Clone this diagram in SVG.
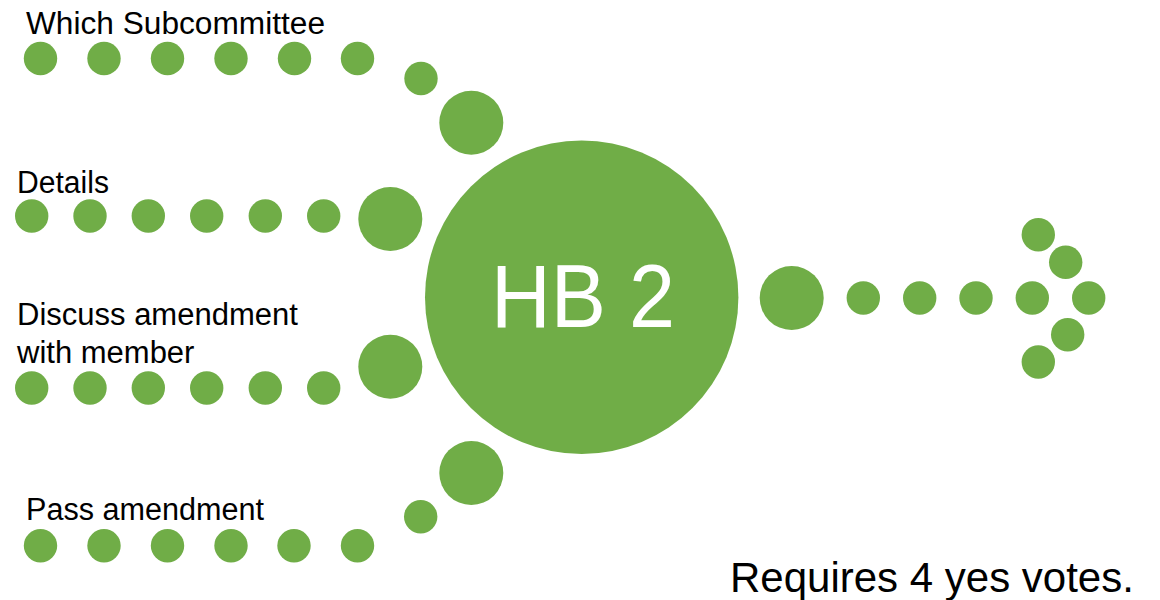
<svg xmlns="http://www.w3.org/2000/svg" width="1160" height="600" viewBox="0 0 1160 600">
<style>
.d{fill:#70AD47}
.lbl{font-family:"Liberation Sans",Arial,sans-serif;font-size:31px;fill:#000}
.hb{font-family:"Liberation Sans",Arial,sans-serif;font-size:89px;fill:#fff}
.note{font-family:"Liberation Sans",Arial,sans-serif;font-size:42px;fill:#000}
</style>
<rect width="1160" height="600" fill="#fff"/>
<g id="connectors">
  <g id="path-subcommittee">
    <circle class="d" cx="40.5" cy="58.5" r="16.7"/>
    <circle class="d" cx="104" cy="58.5" r="16.7"/>
    <circle class="d" cx="167.5" cy="58.5" r="16.7"/>
    <circle class="d" cx="231" cy="58.5" r="16.7"/>
    <circle class="d" cx="294.5" cy="58.5" r="16.7"/>
    <circle class="d" cx="357.5" cy="58.5" r="16.7"/>
    <circle class="d" cx="421" cy="78.5" r="16.7"/>
    <circle class="d" cx="471.3" cy="122.7" r="32"/>
  </g>
  <g id="path-details">
    <circle class="d" cx="31.7" cy="216" r="16.7"/>
    <circle class="d" cx="90" cy="216" r="16.7"/>
    <circle class="d" cx="148.3" cy="216" r="16.7"/>
    <circle class="d" cx="206.7" cy="216" r="16.7"/>
    <circle class="d" cx="265.3" cy="216" r="16.7"/>
    <circle class="d" cx="323.7" cy="216" r="16.7"/>
    <circle class="d" cx="390.3" cy="219" r="32"/>
  </g>
  <g id="path-discuss">
    <circle class="d" cx="31.7" cy="388" r="16.7"/>
    <circle class="d" cx="90" cy="388" r="16.7"/>
    <circle class="d" cx="148.3" cy="388" r="16.7"/>
    <circle class="d" cx="206.7" cy="388" r="16.7"/>
    <circle class="d" cx="265.3" cy="388" r="16.7"/>
    <circle class="d" cx="323.7" cy="388" r="16.7"/>
    <circle class="d" cx="390.3" cy="366.7" r="32"/>
  </g>
  <g id="path-pass">
    <circle class="d" cx="40.5" cy="545.7" r="16.7"/>
    <circle class="d" cx="104" cy="545.7" r="16.7"/>
    <circle class="d" cx="167.5" cy="545.7" r="16.7"/>
    <circle class="d" cx="231" cy="545.7" r="16.7"/>
    <circle class="d" cx="294" cy="545.7" r="16.7"/>
    <circle class="d" cx="357.5" cy="545.7" r="16.7"/>
    <circle class="d" cx="420.7" cy="516.7" r="16.7"/>
    <circle class="d" cx="471.3" cy="473" r="32"/>
  </g>
  <g id="path-out">
    <circle class="d" cx="791.7" cy="298" r="32"/>
    <circle class="d" cx="863.3" cy="298" r="16.7"/>
    <circle class="d" cx="919.7" cy="298" r="16.7"/>
    <circle class="d" cx="976" cy="298" r="16.7"/>
    <circle class="d" cx="1032.3" cy="298" r="16.7"/>
    <circle class="d" cx="1088.7" cy="298" r="16.7"/>
    <circle class="d" cx="1038.3" cy="234.7" r="16.7"/>
    <circle class="d" cx="1065.7" cy="262.3" r="16.7"/>
    <circle class="d" cx="1067.7" cy="334.7" r="16.7"/>
    <circle class="d" cx="1038.3" cy="362" r="16.7"/>
  </g>
</g>
<g id="node-hb2">
  <circle class="d" cx="581.7" cy="297.3" r="156.7"/>
  <text class="hb" x="491" y="326.7" textLength="184" lengthAdjust="spacingAndGlyphs">HB 2</text>
</g>
<g id="label-subcommittee"><text class="lbl" x="26" y="34" textLength="299" lengthAdjust="spacingAndGlyphs">Which Subcommittee</text></g>
<g id="label-details"><text class="lbl" x="17" y="193" textLength="92" lengthAdjust="spacingAndGlyphs">Details</text></g>
<g id="label-discuss"><text class="lbl" x="17" y="325">Discuss amendment</text><text class="lbl" x="17" y="363">with member</text></g>
<g id="label-pass"><text class="lbl" x="26" y="520" textLength="238" lengthAdjust="spacingAndGlyphs">Pass amendment</text></g>
<g id="label-votes"><text class="note" x="730" y="592">Requires 4 yes votes.</text></g>
</svg>
